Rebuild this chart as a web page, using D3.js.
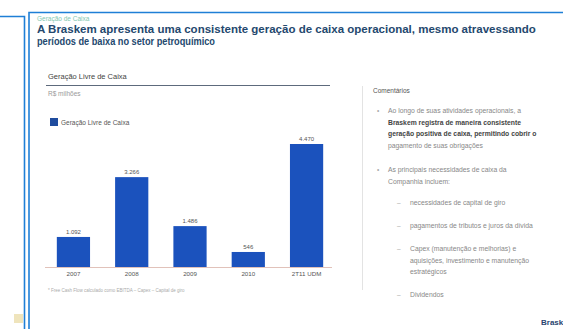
<!DOCTYPE html>
<html><head><meta charset="utf-8">
<script src="https://cdn.jsdelivr.net/npm/d3@7"></script>
<style>body{margin:0;background:#fff;overflow:hidden}svg{display:block;font-family:"Liberation Sans",Arial,sans-serif}</style>
</head><body>
<svg id="c" width="563" height="329"></svg>
<script>
const categories = ["2007","2008","2009","2010","2T11 UDM"];
const values = [1092, 3266, 1486, 546, 4470];
const valueLabels = ["1.092","3.266","1.486","546","4.470"];
const seriesName = "Geração Livre de Caixa";
const comments = [
  {lvl:0, y:113, lines:["Ao longo de suas atividades operacionais, a","Braskem registra de maneira consistente","geração positiva de caixa, permitindo cobrir o","pagamento de suas obrigações"], bold:[1,2]},
  {lvl:0, y:172, lines:["As principais necessidades de caixa da","Companhia incluem:"]},
  {lvl:1, y:205, lines:["necessidades de capital de giro"]},
  {lvl:1, y:228, lines:["pagamentos de tributos e juros da dívida"]},
  {lvl:1, y:251, lines:["Capex (manutenção e melhorias) e","aquisições, investimento e manutenção","estratégicos"]},
  {lvl:1, y:297, lines:["Dividendos"]}
];

const svg = d3.select("#c");
const blue = "#1f7fd6";
// left panel frame
svg.append("path").attr("d","M0,16.5H24.5V329").attr("fill","none").attr("stroke",blue).attr("stroke-width",1.6);
svg.append("rect").attr("x",14).attr("y",314).attr("width",9).attr("height",9).attr("fill","#e8d9a0").attr("opacity",0.7);
// main frame
svg.append("path").attr("d","M29,329V12.5H563").attr("fill","none").attr("stroke",blue).attr("stroke-width",1.6);

svg.append("text").attr("x",37).attr("y",21).attr("font-size",6.5).attr("fill","#7fc7b0").text("Geração de Caixa");
svg.append("text").attr("x",37).attr("y",33).attr("font-size",11.5).attr("font-weight","bold").attr("fill","#24486e")
  .text("A Braskem apresenta uma consistente geração de caixa operacional, mesmo atravessando");
svg.append("text").attr("x",37).attr("y",45).attr("font-size",10).attr("font-weight","bold").attr("fill","#24486e")
  .attr("textLength",178).attr("lengthAdjust","spacingAndGlyphs").text("períodos de baixa no setor petroquímico");

// chart header
svg.append("text").attr("x",48).attr("y",79).attr("font-size",7.5).attr("fill","#444").text("Geração Livre de Caixa");
svg.append("line").attr("x1",46).attr("x2",330).attr("y1",85.5).attr("y2",85.5).attr("stroke","#33445a").attr("stroke-width",0.8);
svg.append("text").attr("x",48).attr("y",96).attr("font-size",6.5).attr("fill","#999").text("R$ milhões");

// legend
svg.append("rect").attr("x",50).attr("y",118).attr("width",8).attr("height",8).attr("fill","#1f4c9e");
svg.append("text").attr("x",61).attr("y",125).attr("font-size",6.5).attr("fill","#555").text(seriesName);

// bars
const x = d3.scaleBand().domain(categories).range([44,336]).paddingInner(0.43).paddingOuter(0.22);
const y = d3.scaleLinear().domain([0, 4470]).range([267, 144]);
svg.append("line").attr("x1",45).attr("x2",332).attr("y1",267.5).attr("y2",267.5).attr("stroke","#d9b3a8").attr("stroke-width",0.8);
const g = svg.append("g");
g.selectAll("rect.bar").data(values).join("rect").attr("class","bar")
  .attr("x",(d,i)=>x(categories[i])).attr("width",x.bandwidth())
  .attr("y",d=>y(d)).attr("height",d=>267-y(d)).attr("fill","#1b52bd");
g.selectAll("text.v").data(values).join("text").attr("class","v")
  .attr("x",(d,i)=>x(categories[i])+x.bandwidth()/2).attr("y",d=>y(d)-3)
  .attr("text-anchor","middle").attr("font-size",6).attr("fill","#555").text((d,i)=>valueLabels[i]);
const xa = svg.append("g").attr("transform","translate(0,267)").call(d3.axisBottom(x).tickSize(0).tickPadding(5));
xa.select(".domain").remove();
xa.selectAll("text").attr("font-size",6.2).attr("fill","#555").attr("font-family","Liberation Sans, Arial, sans-serif");

svg.append("text").attr("x",48).attr("y",292).attr("font-size",4.5).attr("fill","#aaa").text("* Free Cash Flow calculado como EBITDA – Capex – Capital de giro");

// comments panel
svg.append("line").attr("x1",362.5).attr("x2",362.5).attr("y1",86).attr("y2",290).attr("stroke","#e3e3e3").attr("stroke-width",1);
svg.append("text").attr("x",373).attr("y",93).attr("font-size",6.5).attr("fill","#555").text("Comentários");
comments.forEach(c=>{
  const bx = c.lvl===0 ? 377 : 397;
  const tx = c.lvl===0 ? 388 : 410;
  svg.append("text").attr("x",bx).attr("y",c.y).attr("font-size",6.5).attr("fill","#aaa").text(c.lvl===0?"•":"–");
  c.lines.forEach((l,i)=>{
    svg.append("text").attr("x",tx).attr("y",c.y+i*11.5).attr("font-size",6.8)
      .attr("font-weight",(c.bold||[]).includes(i)?"bold":"normal")
      .attr("fill",(c.bold||[]).includes(i)?"#444":"#888").text(l);
  });
});
svg.append("text").attr("x",541).attr("y",325).attr("font-size",8).attr("font-weight","bold").attr("fill","#2a4470").text("Braskem");
</script>
</body></html>
